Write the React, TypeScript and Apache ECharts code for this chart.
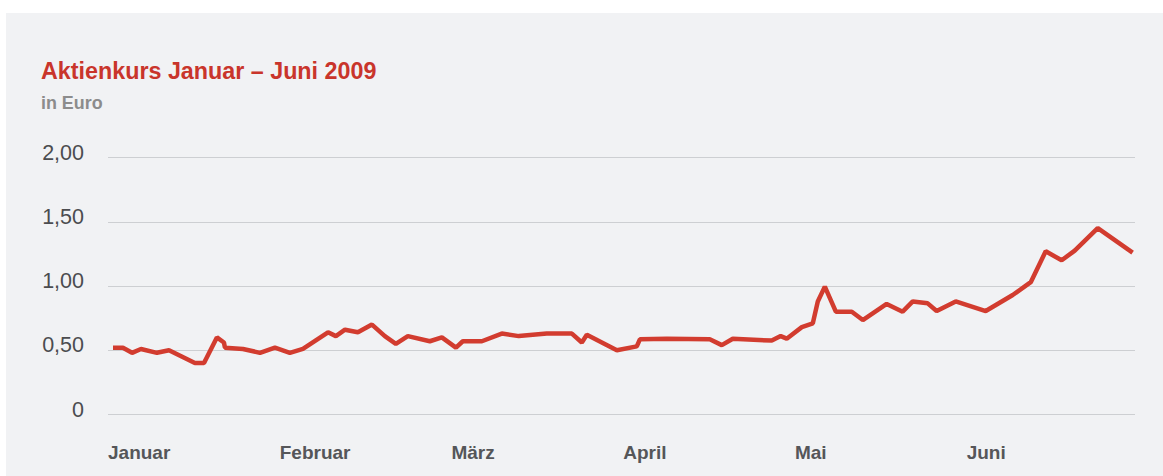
import React, { useEffect, useRef } from "react";
import * as echarts from "echarts";

const monthLabels = ["Januar", "Februar", "März", "April", "Mai", "Juni"];
const yTickLabels: Record<string, string> = { "0": "0", "0.5": "0,50", "1": "1,00", "1.5": "1,50", "2": "2,00" };

// position in months since 1 January (0 = Januar, 1 = Februar, ...)
const monthPos = [
  0.029, 0.087, 0.14, 0.192, 0.285, 0.355, 0.506, 0.559, 0.634, 0.675, 0.681, 0.786, 0.885, 0.972,
  1.059, 1.135, 1.281, 1.327, 1.38, 1.455, 1.537, 1.612, 1.676, 1.746, 1.874, 1.944,
  2.026, 2.066, 2.177, 2.293, 2.392, 2.555, 2.701, 2.759, 2.788, 2.963,
  3.079, 3.097, 3.254, 3.504, 3.574, 3.638, 3.865, 3.917, 3.952,
  4.04, 4.104, 4.133, 4.174, 4.238, 4.331, 4.395, 4.534, 4.627, 4.686, 4.773, 4.825, 4.936,
  5.111, 5.268, 5.373, 5.46, 5.553, 5.629, 5.763, 5.966,
];
const prices = [
  0.52, 0.52, 0.48, 0.51, 0.48, 0.5, 0.4, 0.4, 0.6, 0.56, 0.52, 0.51, 0.48, 0.52,
  0.48, 0.51, 0.64, 0.61, 0.66, 0.64, 0.7, 0.61, 0.55, 0.61, 0.57, 0.6,
  0.52, 0.57, 0.57, 0.63, 0.61, 0.63, 0.63, 0.56, 0.62, 0.5,
  0.53, 0.585, 0.59, 0.585, 0.54, 0.59, 0.575, 0.61, 0.59,
  0.68, 0.71, 0.88, 0.995, 0.8, 0.8, 0.735, 0.86, 0.8, 0.88, 0.865, 0.805, 0.88,
  0.805, 0.93, 1.03, 1.27, 1.2, 1.275, 1.45, 1.26,
];

const FONT = "'Liberation Sans', Arial, sans-serif";

export default function App() {
  const ref = useRef<HTMLDivElement>(null);
  useEffect(() => {
    if (!ref.current) return;
    const chart = echarts.init(ref.current, undefined, { renderer: "svg" });
    const data = monthPos.map((m, i) => [m, prices[i]]);
    chart.setOption({
      animation: false,
      backgroundColor: "transparent",
      textStyle: { fontFamily: FONT },
      title: {
        text: "Aktienkurs Januar – Juni 2009",
        subtext: "in Euro",
        left: 36,
        top: 54,
        itemGap: 12,
        textStyle: { color: "#c9352b", fontSize: 23.3, fontWeight: "bold", fontFamily: FONT },
        subtextStyle: { color: "#8c8c8c", fontSize: 17.9, fontWeight: "bold", fontFamily: FONT },
      },
      grid: { left: 108, right: 28, top: 157.5, bottom: 476 - 414.5, containLabel: false },
      xAxis: {
        type: "value",
        min: 0,
        max: 5.98,
        interval: 1,
        axisLine: { show: false },
        axisTick: { show: false },
        splitLine: { show: false },
        axisLabel: {
          showMaxLabel: false,
          align: "left",
          margin: 28,
          color: "#555659",
          fontSize: 19,
          fontWeight: "bold",
          fontFamily: FONT,
          formatter: (v: number) => (Number.isInteger(v) ? monthLabels[v] ?? "" : ""),
        },
      },
      yAxis: {
        type: "value",
        min: 0,
        max: 2,
        interval: 0.5,
        axisLine: { show: false },
        axisTick: { show: false },
        splitLine: { show: true, lineStyle: { color: "#cdcfd2", width: 1 } },
        axisLabel: {
          margin: 24,
          align: "right",
          formatter: (v: number) => "{v|" + (yTickLabels[String(v)] ?? "") + "}",
          rich: {
            v: {
              color: "#4b4c4f",
              fontSize: 21.5,
              fontFamily: FONT,
              padding: [0, 0, 10, 0],
            },
          },
        },
      },
      series: [
        {
          type: "line",
          data,
          showSymbol: false,
          symbol: "none",
          lineStyle: { color: "#d23c2f", width: 4.5 },
          silent: true,
        },
      ],
    });
    return () => chart.dispose();
  }, []);

  return (
    <div style={{ position: "fixed", left: 0, top: 0, width: 1163, height: 476, background: "#ffffff" }}>
      <div style={{ position: "absolute", left: 6, top: 13, right: 0, bottom: 0, background: "#f1f2f4" }} />
      <div ref={ref} style={{ position: "absolute", left: 0, top: 0, width: 1163, height: 476 }} />
    </div>
  );
}
